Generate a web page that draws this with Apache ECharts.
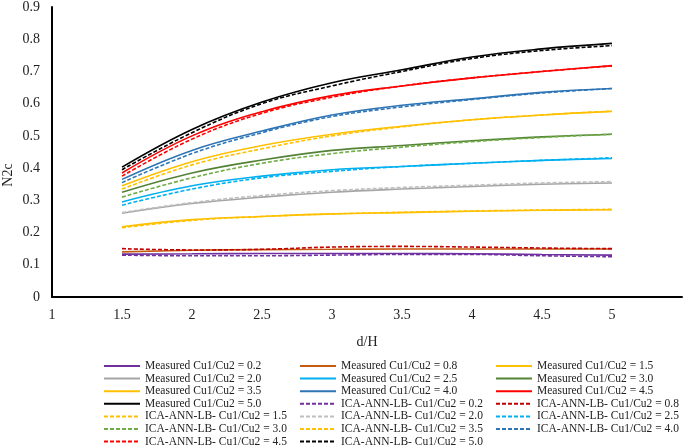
<!DOCTYPE html>
<html><head><meta charset="utf-8">
<script src="https://cdn.jsdelivr.net/npm/echarts@6/dist/echarts.min.js"></script>
<style>html,body{margin:0;padding:0;background:#fff}#c{width:685px;height:446px}</style>
</head><body><div id="c"></div>
<script>
const xValues = [1.5, 2, 2.5, 3, 3.5, 4, 4.5, 5];
const ratios = ['0.2','0.8','1.5','2.0','2.5','3.0','3.5','4.0','4.5','5.0'];
const measured = {
  '0.2': [0.133, 0.134, 0.135, 0.135, 0.135, 0.134, 0.132, 0.130],
  '0.8': [0.140, 0.145, 0.147, 0.148, 0.149, 0.149, 0.149, 0.149],
  '1.5': [0.218, 0.240, 0.250, 0.258, 0.262, 0.266, 0.269, 0.271],
  '2.0': [0.260, 0.290, 0.310, 0.325, 0.335, 0.343, 0.350, 0.354],
  '2.5': [0.295, 0.345, 0.375, 0.395, 0.405, 0.415, 0.424, 0.430],
  '3.0': [0.325, 0.385, 0.425, 0.455, 0.470, 0.485, 0.497, 0.505],
  '3.5': [0.345, 0.420, 0.470, 0.505, 0.530, 0.550, 0.565, 0.576],
  '4.0': [0.365, 0.455, 0.515, 0.565, 0.595, 0.615, 0.635, 0.647],
  '4.5': [0.385, 0.500, 0.575, 0.625, 0.655, 0.680, 0.700, 0.718],
  '5.0': [0.403, 0.520, 0.605, 0.665, 0.705, 0.745, 0.770, 0.787]
};
const predicted = {
  '0.2': [0.130, 0.128, 0.128, 0.130, 0.132, 0.132, 0.128, 0.125],
  '0.8': [0.150, 0.146, 0.148, 0.155, 0.157, 0.155, 0.152, 0.150],
  '1.5': [0.215, 0.238, 0.250, 0.258, 0.263, 0.267, 0.270, 0.272],
  '2.0': [0.262, 0.293, 0.315, 0.330, 0.340, 0.347, 0.354, 0.358],
  '2.5': [0.285, 0.335, 0.370, 0.390, 0.405, 0.415, 0.424, 0.432],
  '3.0': [0.310, 0.370, 0.415, 0.445, 0.465, 0.482, 0.495, 0.505],
  '3.5': [0.335, 0.410, 0.460, 0.500, 0.528, 0.550, 0.565, 0.577],
  '4.0': [0.355, 0.445, 0.510, 0.560, 0.590, 0.613, 0.633, 0.647],
  '4.5': [0.375, 0.490, 0.570, 0.620, 0.655, 0.680, 0.700, 0.717],
  '5.0': [0.395, 0.510, 0.600, 0.655, 0.700, 0.740, 0.765, 0.780]
};
const measuredColors = ['#7030A0','#C55A11','#FFC000','#A5A5A5','#00B0F0','#548235','#FFC000','#2E75B6','#FF0000','#000000'];
const predictedColors = ['#7030A0','#C00000','#FFC000','#BFBFBF','#00B0F0','#70AD47','#FFC000','#2E75B6','#FF0000','#000000'];
const xTicks = [1, 1.5, 2, 2.5, 3, 3.5, 4, 4.5, 5];

const mName = r => 'Measured Cu1/Cu2 = ' + r;
const pName = r => 'ICA-ANN-LB- Cu1/Cu2 = ' + r;
const series = [];
ratios.forEach((r, i) => {
  series.push({name: mName(r), type: 'line', smooth: 0.4, symbol: 'none',
    lineStyle: {color: measuredColors[i], width: 1.6}, itemStyle: {color: measuredColors[i]},
    data: xValues.map((x, j) => [x, measured[r][j]])});
});
ratios.forEach((r, i) => {
  series.push({name: pName(r), type: 'line', smooth: 0.4, symbol: 'none',
    lineStyle: {color: predictedColors[i], width: 1.6, type: [4, 2]}, itemStyle: {color: predictedColors[i]},
    data: xValues.map((x, j) => [x, predicted[r][j]])});
});
const allNames = ratios.map(mName).concat(ratios.map(pName));
const cols = [[], [], []];
allNames.forEach((n, i) => cols[i % 3].push(n));
const legendBase = {orient: 'vertical', top: 360, height: 120, padding: 0, itemWidth: 36, itemHeight: 12, itemGap: 0.6,
  itemStyle: {opacity: 0},
  textStyle: {fontFamily: 'Liberation Serif', fontSize: 11.5, color: '#222', lineHeight: 12, height: 12}};
const legends = [103, 299, 495].map((l, k) => Object.assign({}, legendBase, {left: l, data: cols[k]}));

const chart = echarts.init(document.getElementById('c'));
chart.setOption({
  animation: false,
  grid: {left: 52, right: -14, top: 6, bottom: 149},
  legend: legends,
  xAxis: {type: 'value', min: 1, max: 5.5, interval: 0.5, name: 'd/H', nameLocation: 'middle', nameGap: 38,
    nameTextStyle: {fontFamily: 'Liberation Serif', fontSize: 14, color: '#222'},
    axisLine: {lineStyle: {color: '#000', width: 2}}, axisTick: {show: false}, splitLine: {show: false},
    axisLabel: {fontFamily: 'Liberation Serif', fontSize: 14, color: '#222', margin: 11,
      formatter: v => xTicks.indexOf(v) >= 0 ? String(v) : ''}},
  yAxis: {type: 'value', min: 0, max: 0.9, interval: 0.1,
    axisLine: {show: true, lineStyle: {color: '#000', width: 2}}, axisTick: {show: false}, splitLine: {show: false},
    axisLabel: {fontFamily: 'Liberation Serif', fontSize: 14, color: '#222', margin: 12, formatter: v => v === 0 ? '0' : v.toFixed(1)}},
  graphic: [{type: 'text', x: 8, y: 175, rotation: Math.PI / 2,
    style: {text: 'N2c', font: '14px "Liberation Serif"', fill: '#222', textAlign: 'center', textVerticalAlign: 'middle'}}],
  series: series
});
</script></body></html>
